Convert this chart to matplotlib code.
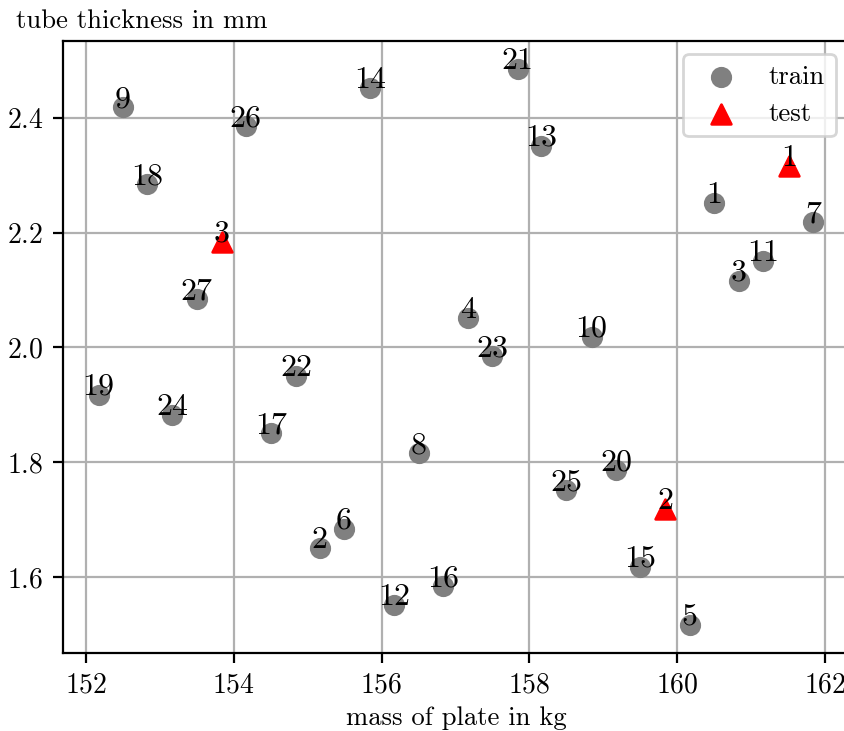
import matplotlib
matplotlib.use("Agg")
import matplotlib.pyplot as plt

plt.rcParams['font.family'] = ['cmr10', 'DejaVu Serif']
plt.rcParams['mathtext.fontset'] = 'cm'
plt.rcParams['axes.unicode_minus'] = False
plt.rcParams['axes.formatter.use_mathtext'] = True
plt.rcParams['font.size'] = 10

train_labels = list(range(1, 28))
train_mass = [160.50, 155.16, 160.83, 157.17, 160.17, 155.49, 161.84, 156.50, 152.50,
              158.84, 161.16, 156.17, 158.16, 155.84, 159.50, 156.83, 154.50, 152.83,
              152.17, 159.17, 157.84, 154.84, 157.50, 153.17, 158.50, 154.16, 153.50]
train_thick = [2.252, 1.651, 2.116, 2.051, 1.517, 1.684, 2.218, 1.816, 2.418,
               2.019, 2.151, 1.551, 2.351, 2.452, 1.618, 1.584, 1.851, 2.284,
               1.918, 1.786, 2.485, 1.951, 1.985, 1.883, 1.751, 2.385, 2.084]

test_labels = [1, 2, 3]
test_mass = [161.51, 159.84, 153.84]
test_thick = [2.316, 1.718, 2.184]

W, H = 845, 731
fig = plt.figure(figsize=(W / 200, H / 200), dpi=200)
left, right, top, bottom = 62.8, 849.0, 41.0, 652.7
ax = fig.add_axes([left / W, 1 - bottom / H, (right - left) / W, (bottom - top) / H])
ax.set_axisbelow(True)
ax.grid(True, color='#b0b0b0', linewidth=0.8)

ax.scatter(train_mass, train_thick, s=44, color='gray', label='train', zorder=2)
ax.scatter(test_mass, test_thick, s=50, color='red', marker='^', label='test', zorder=2)

for lab, xv, yv in zip(train_labels, train_mass, train_thick):
    ax.text(xv, yv, str(lab), ha='center', va='baseline', fontsize=11.5, zorder=3)
for lab, xv, yv in zip(test_labels, test_mass, test_thick):
    ax.text(xv, yv, str(lab), ha='center', va='baseline', fontsize=11.5, zorder=3)

ax.set_xticks([152, 154, 156, 158, 160, 162])
ax.set_yticks([1.6, 1.8, 2.0, 2.2, 2.4])
fig.text(456 / W, 1 - 725 / H, 'mass of plate in kg', fontsize=9.6, ha='center', va='baseline')
fig.text(15.7 / W, 1 - 28.3 / H, 'tube thickness in mm', fontsize=9.6, ha='left', va='baseline')
ax.legend(loc='upper right', fontsize=9.6)

fig.savefig('out.png', dpi=200)
